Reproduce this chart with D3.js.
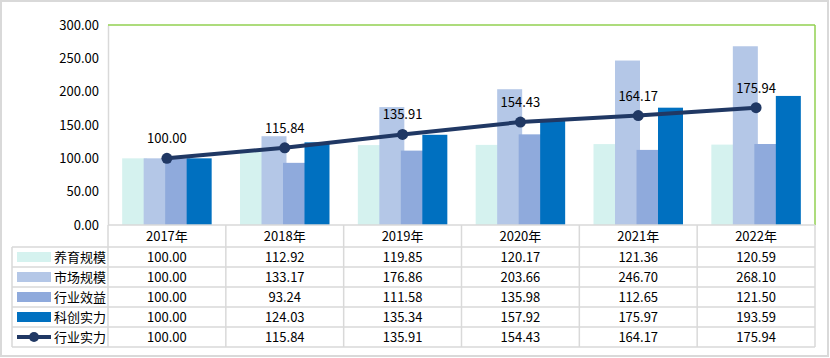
<!DOCTYPE html>
<html><head><meta charset="utf-8">
<script src="https://cdn.jsdelivr.net/npm/d3@7"></script>
<style>
html,body{margin:0;padding:0;background:#fff;}
text{font-family:"Noto Sans CJK SC","Noto Sans",sans-serif;fill:#000;}
</style></head>
<body><svg id="c" width="830" height="358"></svg>
<script>
const categories = ["2017年","2018年","2019年","2020年","2021年","2022年"];
const seriesNames = ["养育规模","市场规模","行业效益","科创实力"];
const yangyu = [100.00,112.92,119.85,120.17,121.36,120.59];
const shichang = [100.00,133.17,176.86,203.66,246.70,268.10];
const xiaoyi = [100.00,93.24,111.58,135.98,112.65,121.50];
const kechuang = [100.00,124.03,135.34,157.92,175.97,193.59];
const lineName = "行业实力";
const lineValues = [100.00,115.84,135.91,154.43,164.17,175.94];
const yTicks = [0,50,100,150,200,250,300];
const barColors = ["#d5f2ef","#b4c7e7","#8faadc","#0070c0"];
const lineColor = "#203864";
const barSeries = [yangyu, shichang, xiaoyi, kechuang];

const svg = d3.select("#c");
const L = 108, R = 815, T = 25, B = 225;
const x = d3.scaleBand().domain(categories).range([L, R]).padding(0);
const y = d3.scaleLinear().domain([0, 300]).range([B, T]);
const fmt = d3.format(".2f");

// outer frame
svg.append("rect").attr("x",1).attr("y",1).attr("width",827).attr("height",355)
  .attr("fill","#fff").attr("stroke","#d9d9d9").attr("stroke-width",2);

// y axis
const yAxis = d3.axisLeft(y).tickValues(yTicks).tickFormat(fmt).tickSize(0).tickPadding(9);
const ga = svg.append("g").attr("transform",`translate(${L},0)`).call(yAxis);
ga.select(".domain").attr("stroke","#d9d9d9").attr("stroke-width",1.5);
ga.selectAll("text").style("font-size","13px").attr("font-family",null);

// plot border (green top & right)
svg.append("line").attr("x1",L).attr("x2",R).attr("y1",T).attr("y2",T).attr("stroke","#92d050").attr("stroke-width",1.5);
svg.append("line").attr("x1",R).attr("x2",R).attr("y1",T).attr("y2",B).attr("stroke","#92d050").attr("stroke-width",1.5);

// bars
const barW = 25, step = 21.5;
const groupW = step*3 + barW;
const bw = x.bandwidth();
barSeries.forEach((vals, si) => {
  svg.append("g").selectAll("rect").data(vals).join("rect")
    .attr("x",(d,i)=> x(categories[i]) + (bw-groupW)/2 + si*step)
    .attr("y", d=> y(d))
    .attr("width", barW)
    .attr("height", d=> B - y(d))
    .attr("fill", barColors[si]);
});

// line
const cx = i => x(categories[i]) + bw/2;
svg.append("path").datum(lineValues)
  .attr("d", d3.line().x((d,i)=>cx(i)).y(d=>y(d)))
  .attr("fill","none").attr("stroke",lineColor).attr("stroke-width",4);
svg.append("g").selectAll("circle").data(lineValues).join("circle")
  .attr("cx",(d,i)=>cx(i)).attr("cy",d=>y(d)).attr("r",5.5).attr("fill",lineColor);
svg.append("g").selectAll("text").data(lineValues).join("text")
  .attr("x",(d,i)=>cx(i)).attr("y",d=>y(d)-15)
  .attr("text-anchor","middle").style("font-size","13px").text(d=>fmt(d));

// table
const rowTop = 247, rowH = 20, legL = 12;
const gridC = "#d9d9d9";
const tg = svg.append("g");
// horizontal lines
tg.append("line").attr("x1",L).attr("x2",R).attr("y1",B).attr("y2",B).attr("stroke",gridC).attr("stroke-width",1.5);
for (let r=0;r<=5;r++){
  tg.append("line").attr("x1",legL).attr("x2",R).attr("y1",rowTop+r*rowH).attr("y2",rowTop+r*rowH).attr("stroke",gridC).attr("stroke-width",1.5);
}
// vertical lines
tg.append("line").attr("x1",legL).attr("x2",legL).attr("y1",rowTop).attr("y2",rowTop+5*rowH).attr("stroke",gridC).attr("stroke-width",1.5);
categories.forEach((c,i)=>{
  tg.append("line").attr("x1",x(c)).attr("x2",x(c)).attr("y1",B).attr("y2",rowTop+5*rowH).attr("stroke",gridC).attr("stroke-width",1.5);
});
tg.append("line").attr("x1",R).attr("x2",R).attr("y1",B).attr("y2",rowTop+5*rowH).attr("stroke",gridC).attr("stroke-width",1.5);
// header
tg.selectAll("text.h").data(categories).join("text").attr("class","h")
  .attr("x",(d,i)=>cx(i)).attr("y",(B+rowTop)/2).attr("dy","0.35em")
  .attr("text-anchor","middle").style("font-size","13px").text(d=>d);
// rows
const rows = seriesNames.map((n,i)=>({name:n, vals:barSeries[i], type:"bar", color:barColors[i]}))
  .concat([{name:lineName, vals:lineValues, type:"line", color:lineColor}]);
rows.forEach((row, r)=>{
  const ym = rowTop + r*rowH + rowH/2;
  if (row.type==="bar"){
    tg.append("rect").attr("x",17).attr("y",ym-5).attr("width",34).attr("height",10).attr("fill",row.color);
  } else {
    tg.append("line").attr("x1",17).attr("x2",51).attr("y1",ym).attr("y2",ym).attr("stroke",row.color).attr("stroke-width",4);
    tg.append("circle").attr("cx",34).attr("cy",ym).attr("r",5).attr("fill",row.color);
  }
  tg.append("text").attr("x",54).attr("y",ym).attr("dy","0.35em").style("font-size","13px").text(row.name);
  row.vals.forEach((v,i)=>{
    tg.append("text").attr("x",cx(i)).attr("y",ym).attr("dy","0.35em")
      .attr("text-anchor","middle").style("font-size","13px").text(fmt(v));
  });
});
</script></body></html>
